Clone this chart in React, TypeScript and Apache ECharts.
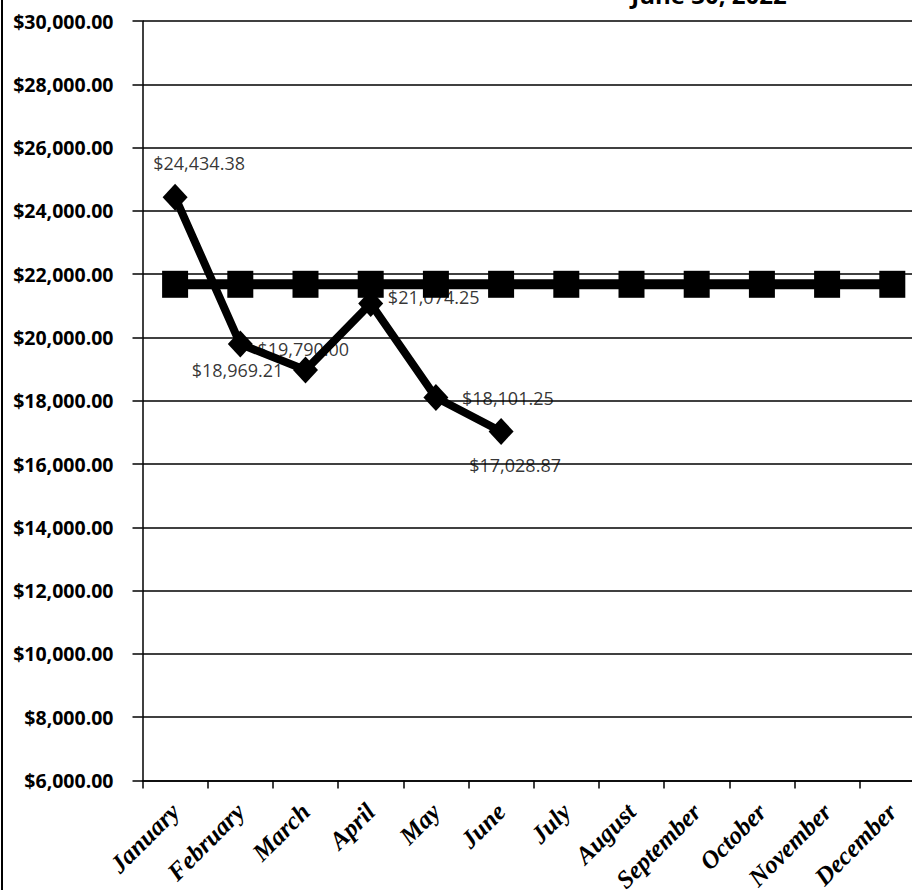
import React, { useEffect, useRef } from "react";
import * as echarts from "echarts";

const months = ["January", "February", "March", "April", "May", "June", "July", "August", "September", "October", "November", "December"];
const actualValues: (number | null)[] = [24434.38, 19790.0, 18969.21, 21074.25, 18101.25, 17028.87, null, null, null, null, null, null];
const targetValues: number[] = [21680, 21680, 21680, 21680, 21680, 21680, 21680, 21680, 21680, 21680, 21680, 21680];
const labelOffsets: [number, number][] = [[24, -34], [63, 5], [-68, 0], [63, -6], [72, 0], [14, 34]];
const yMin = 6000;
const yMax = 30000;
const yStep = 2000;
const titleText = "June 30, 2022";

function money(v: number): string {
  const fixed = Math.abs(v).toFixed(2);
  const [intPart, dec] = fixed.split(".");
  const withCommas = intPart.replace(/\B(?=(\d{3})+(?!\d))/g, ",");
  return (v < 0 ? "-$" : "$") + withCommas + "." + dec;
}

export default function App() {
  const ref = useRef<HTMLDivElement>(null);
  useEffect(() => {
    if (!ref.current) return;
    const chart = echarts.init(ref.current, null, { renderer: "svg" });
    const labelData = actualValues.map((v, i) =>
      v == null
        ? null
        : {
            value: v,
            label: {
              show: true,
              position: "inside",
              offset: labelOffsets[i] || [0, 0],
              color: "#000000",
              textBorderWidth: 0,
              fontFamily: "Open Sans",
              fontSize: 18,
              formatter: () => money(v),
            },
          }
    );
    chart.setOption({
      animation: false,
      backgroundColor: "#ffffff",
      grid: { left: 142.5, right: 5.1, top: 21, bottom: 109.5, containLabel: false, outerBoundsMode: "none" },
      xAxis: {
        type: "category",
        data: months,
        boundaryGap: true,
        axisLine: { show: true, lineStyle: { color: "#000", width: 1.5 } },
        axisTick: { show: true, length: 8, alignWithLabel: false, lineStyle: { color: "#000", width: 1.5 } },
        axisLabel: {
          interval: 0,
          rotate: 45,
          margin: 27,
          color: "#000",
          fontFamily: "Liberation Serif",
          fontWeight: "bold",
          fontStyle: "italic",
          fontSize: 25,
        },
        splitLine: { show: false },
      },
      yAxis: {
        type: "value",
        min: yMin,
        max: yMax,
        interval: yStep,
        axisLine: { show: true, lineStyle: { color: "#000", width: 1.5 } },
        axisTick: { show: true, inside: false, length: 10, lineStyle: { color: "#000", width: 1.5 } },
        axisLabel: {
          margin: 29,
          color: "#000",
          fontFamily: "Open Sans",
          fontWeight: "bold",
          fontSize: 19.5,
          formatter: (v: number) => money(v),
        },
        splitLine: { show: true, lineStyle: { color: "#000", width: 1.5 } },
      },
      series: [
        {
          name: "Labels",
          type: "scatter",
          z: 1,
          symbolSize: 0,
          silent: true,
          data: labelData,
          label: {
            color: "#000000",
            fontFamily: "Open Sans",
            fontSize: 18,
          },
        },
        {
          name: "Target",
          type: "line",
          z: 2,
          data: targetValues,
          symbol: "rect",
          symbolSize: [26, 27],
          lineStyle: { color: "#000", width: 10 },
          itemStyle: { color: "#000" },
        },
        {
          name: "Actual",
          type: "line",
          z: 3,
          data: actualValues,
          symbol: "diamond",
          symbolSize: [25, 27],
          connectNulls: false,
          lineStyle: { color: "#000", width: 8 },
          itemStyle: { color: "#000" },
        },
      ],
      graphic: [
        {
          type: "line",
          shape: { x1: 2, y1: 0, x2: 2, y2: 890 },
          style: { stroke: "#000", lineWidth: 2 },
        },
        {
          type: "text",
          x: 709,
          y: 6,
          style: {
            text: titleText,
            fill: "#000",
            font: "bold 24px 'Open Sans'",
            textAlign: "center",
            textVerticalAlign: "bottom",
          },
        },
      ],
    });
    return () => chart.dispose();
  }, []);
  return (
    <div style={{ position: "fixed", left: 0, top: 0, width: 912, height: 890, overflow: "hidden", background: "#fff" }}>
      <div ref={ref} style={{ width: 930, height: 890 }} />
    </div>
  );
}
